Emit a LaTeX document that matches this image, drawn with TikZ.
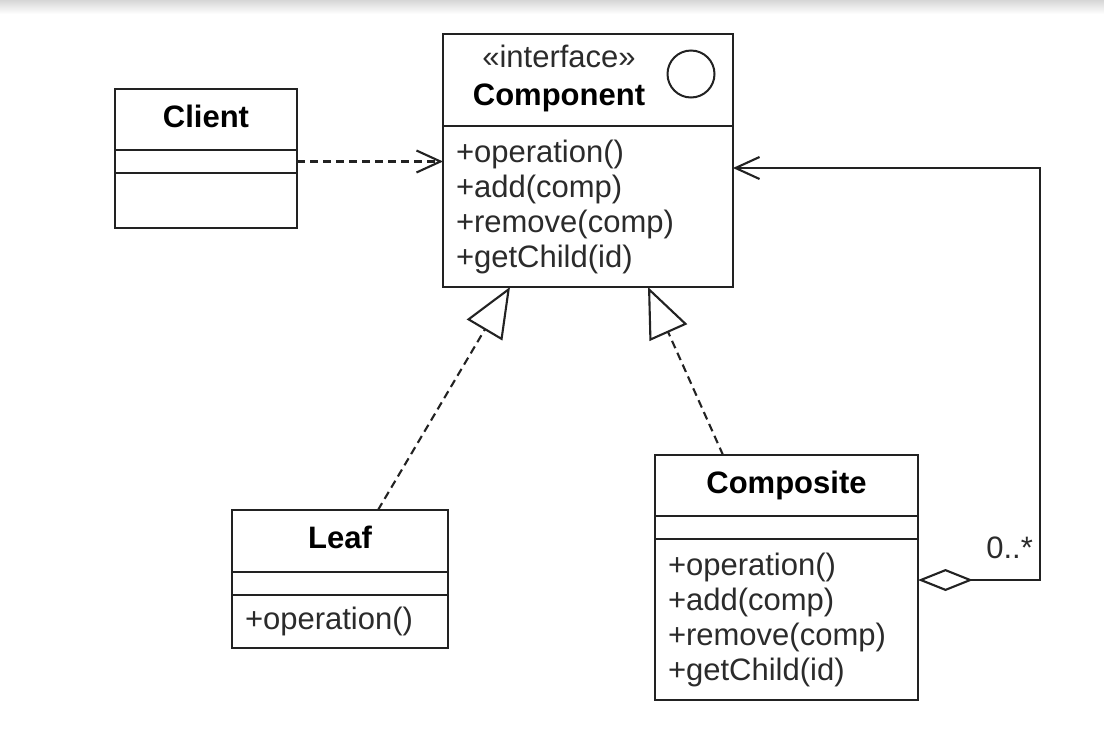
\documentclass[tikz,border=0pt]{standalone}
\usepackage{fontspec}
\setmainfont{Liberation Sans}
\usepackage{xcolor}
\definecolor{umlLine}{HTML}{222222}
\definecolor{umlText}{HTML}{2B2B2B}
\usetikzlibrary{arrows.meta, positioning}
\newcommand{\umlfont}{\fontsize{31}{35}\selectfont}
\tikzset{
    classbox/.style={draw=umlLine, line width=2.3pt, rectangle, inner sep=0pt,
                     outer sep=0pt},
    classhead/.style={classbox, font=\umlfont\bfseries, text=black,
                      text height=23pt, text depth=8pt},
    classattr/.style={classbox, minimum height=23pt},
    classops/.style={classbox, align=left, inner xsep=13pt,
                     font=\umlfont, text=umlText},
    depedge/.style={-{Straight Barb[length=24pt, width=22pt]},
                    line width=2.1pt, umlLine, dash pattern=on 8pt off 5pt},
    realedge/.style={-{Triangle[open, length=50pt, width=41pt]},
                     line width=2.1pt, umlLine, dash pattern=on 8pt off 5pt},
    aggedge/.style={{Diamond[open, length=55pt, width=22pt]}-{Straight Barb[length=24pt, width=22pt]},
                    line width=2.1pt, umlLine},
}
\begin{document}
\begin{tikzpicture}[x=1pt, y=-1pt]
\fill[white] (0,0) rectangle (1104,729);
\useasboundingbox (0,0) rectangle (1104,729);
\shade[top color=black!16, bottom color=white] (0,0) rectangle (1104,14);

% --- Component (interface) ---
\node[classbox, minimum width=290pt, minimum height=92pt, anchor=north west]
    (cmp-head) at (443,34) {};
\node[font=\umlfont, text=umlText, anchor=base] (cmp-stereo) at (559,67) {«interface»};
\node[font=\umlfont\bfseries, anchor=base] (cmp-name) at (559,105) {Component};
\node[circle, draw=umlLine, line width=2pt, minimum size=47pt, inner sep=0pt]
    (cmp-icon) at ([shift={(-42pt,-40pt)}]cmp-head.north east) {};
\node[classops, text width=264pt, minimum height=161pt, below=0pt of cmp-head]
    (cmp-ops) {+operation()\\+add(comp)\\+remove(comp)\\+getChild(id)};

% --- Client ---
\node[classhead, minimum width=182pt, minimum height=61pt, anchor=north west]
    (cl-head) at (115,89) {Client};
\node[classattr, minimum width=182pt, below=0pt of cl-head] (cl-attr) {};
\node[classops, text width=156pt, minimum height=55pt, below=0pt of cl-attr]
    (cl-ops) {};

% --- Leaf ---
\node[classhead, minimum width=216pt, minimum height=62pt, anchor=north west]
    (lf-head) at (232,510) {Leaf};
\node[classattr, minimum width=216pt, below=0pt of lf-head] (lf-attr) {};
\node[classops, text width=190pt, minimum height=53pt, below=0pt of lf-attr]
    (lf-ops) {+operation()};

% --- Composite ---
\node[classhead, minimum width=263pt, minimum height=61pt, anchor=north west]
    (cs-head) at (655,455) {Composite};
\node[classattr, minimum width=263pt, below=0pt of cs-head] (cs-attr) {};
\node[classops, text width=237pt, minimum height=161pt, below=0pt of cs-attr]
    (cs-ops) {+operation()\\+add(comp)\\+remove(comp)\\+getChild(id)};
\node[font=\umlfont, text=umlText, anchor=base east, inner sep=0pt]
    (cs-mult) at (1033,558) {0..*};

% --- relations ---
\draw[depedge] (cl-attr.east) -- (cl-attr.east -| cmp-ops.west);
\draw[realedge] ([xshift=38pt]lf-head.north) -- ([xshift=-78pt]cmp-ops.south);
\draw[realedge] ([xshift=-63.5pt]cs-head.north) -- ([xshift=60pt]cmp-ops.south);
\draw[aggedge] ([yshift=39.5pt]cs-ops.east) -- ++(122pt,0)
    |- ([yshift=38.5pt]cmp-ops.east);
\end{tikzpicture}
\end{document}
